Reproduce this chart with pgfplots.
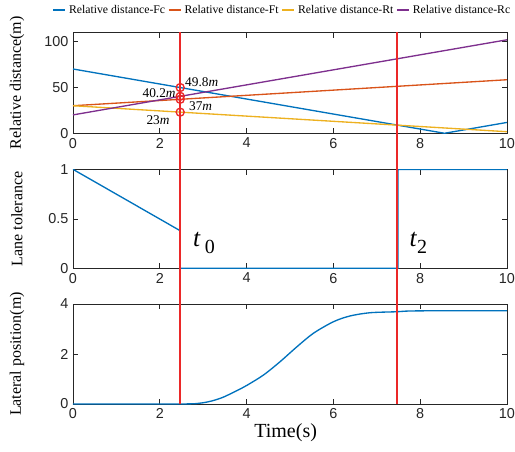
\documentclass[border=0pt]{standalone}
\usepackage{fontspec}
\setmainfont{Liberation Serif}
\newfontfamily\arialfont{Liberation Sans}
\usepackage{pgfplots}
\pgfplotsset{compat=1.18}
\definecolor{mblue}{rgb}{0,0.447,0.741}
\definecolor{morange}{rgb}{0.85,0.325,0.098}
\definecolor{myellow}{rgb}{0.929,0.694,0.125}
\definecolor{mpurple}{rgb}{0.494,0.184,0.556}
\definecolor{mred}{RGB}{235,40,40}
\definecolor{axgray}{rgb}{0.15,0.15,0.15}
\pgfplotsset{
  myax/.style={
    scale only axis, width=325.5pt,
    xmin=0, xmax=10,
    xtick={0,2,4,6,8,10},
    axis line style={axgray, line width=0.5pt},
    tick style={axgray, line width=0.5pt},
    major tick length=4pt,
    tick align=inside,
    /pgf/number format/assume math mode=true,
    tick label style={font=\arialfont\fontsize{10.8}{11}\selectfont, text=axgray},
    every axis y label/.style={at={(rel axis cs:-0.129,0.5)}, rotate=90, anchor=center, font=\fontsize{12}{13}\selectfont},
    clip=true,
  }
}
\begin{document}
\begin{tikzpicture}
% top axis
\begin{axis}[myax, at={(54.75pt,238.3pt)}, anchor=south west, height=75.75pt,
  ymin=0, ymax=110, ytick={0,50,100},
  ylabel={Relative distance(m)},
  legend columns=4,
  legend style={at={(0.48,1.22)}, anchor=center, draw=none, fill=none,
    font=\fontsize{8.8}{9}\selectfont, inner sep=0pt,
    nodes={inner sep=0.5pt},
    /tikz/every odd column/.append style={column sep=1.5pt},
    /tikz/every even column/.append style={column sep=1pt}},
  legend image code/.code={\draw[#1, line width=2pt] (0pt,0pt) -- (9pt,0pt);},
  clip mode=individual]
\addplot[mblue, line width=1pt] coordinates {(0,70) (8.56,0) (10,11.8)};
\addlegendentry{Relative distance-Fc}
\addplot[morange, line width=1pt] coordinates {(0,30) (10,58.3)};
\addlegendentry{Relative distance-Ft}
\addplot[myellow, line width=1pt] coordinates {(0,30) (10,1.7)};
\addlegendentry{Relative distance-Rt}
\addplot[mpurple, line width=1pt] coordinates {(0,20) (10,101.8)};
\addlegendentry{Relative distance-Rc}
\addplot[mred, only marks, mark=o, mark size=3pt, line width=1pt, forget plot] coordinates {(2.47,49.8) (2.47,40.2) (2.47,37) (2.47,23)};
\node[anchor=west, inner sep=0pt, font=\fontsize{10}{10}\selectfont] at (axis cs:2.58,56) {49.8\textit{m}};
\node[anchor=east, inner sep=0pt, font=\fontsize{10}{10}\selectfont] at (axis cs:2.37,43.7) {40.2\textit{m}};
\node[anchor=west, inner sep=0pt, font=\fontsize{10}{10}\selectfont] at (axis cs:2.67,29) {37\textit{m}};
\node[anchor=east, inner sep=0pt, font=\fontsize{10}{10}\selectfont] at (axis cs:2.23,14.5) {23\textit{m}};
\coordinate (Atop) at (axis cs:2.47,110);
\coordinate (Btop) at (axis cs:7.465,110);
\end{axis}
% middle axis
\begin{axis}[myax, at={(54.75pt,137pt)}, anchor=south west, height=74.25pt,
  ymin=0, ymax=1, ytick={0,0.5,1},
  yticklabels={0,0.5,1},
  ylabel={Lane tolerance}]
\addplot[mblue, line width=1pt] coordinates {(0,1) (2.47,0.38) (2.47,0) (7.49,0) (7.49,1) (10,1)};
\node[anchor=base west, inner sep=0pt] at (axis cs:2.76,0.22) {\fontsize{19}{19}\selectfont\textit{t}\,\raisebox{-5pt}{\fontsize{15}{15}\selectfont 0}};
\node[anchor=base west, inner sep=0pt] at (axis cs:7.75,0.22) {\fontsize{19}{19}\selectfont\textit{t}\raisebox{-5pt}{\fontsize{15}{15}\selectfont 2}};
\end{axis}
% bottom axis
\begin{axis}[myax, at={(54.75pt,35.25pt)}, anchor=south west, height=75pt,
  ymin=0, ymax=4, ytick={0,2,4},
  ylabel={Lateral position(m)},
  xlabel={Time(s)},
  every axis x label/.style={at={(rel axis cs:0.49,-0.29)}, anchor=center, font=\fontsize{15}{16}\selectfont}]
\addplot[mblue, line width=1pt, smooth] coordinates {
(0,0) (2.47,0) (3.0,0.05) (3.4,0.23) (3.77,0.53) (4.02,0.76) (4.39,1.16) (4.77,1.69) (5.16,2.29) (5.54,2.83) (6.0,3.29) (6.38,3.52) (6.84,3.65) (7.45,3.69) (7.76,3.72) (8.5,3.73) (10,3.73)};
\coordinate (Abot) at (axis cs:2.47,0);
\coordinate (Bbot) at (axis cs:7.465,0);
\end{axis}
\draw[mred, line width=1.1pt] (Atop) -- (Abot);
\draw[mred, line width=1.1pt] (Btop) -- (Bbot);
\pgfresetboundingbox
\path[use as bounding box] (0pt,0pt) rectangle (386.25pt,338.25pt);
\end{tikzpicture}
\end{document}
